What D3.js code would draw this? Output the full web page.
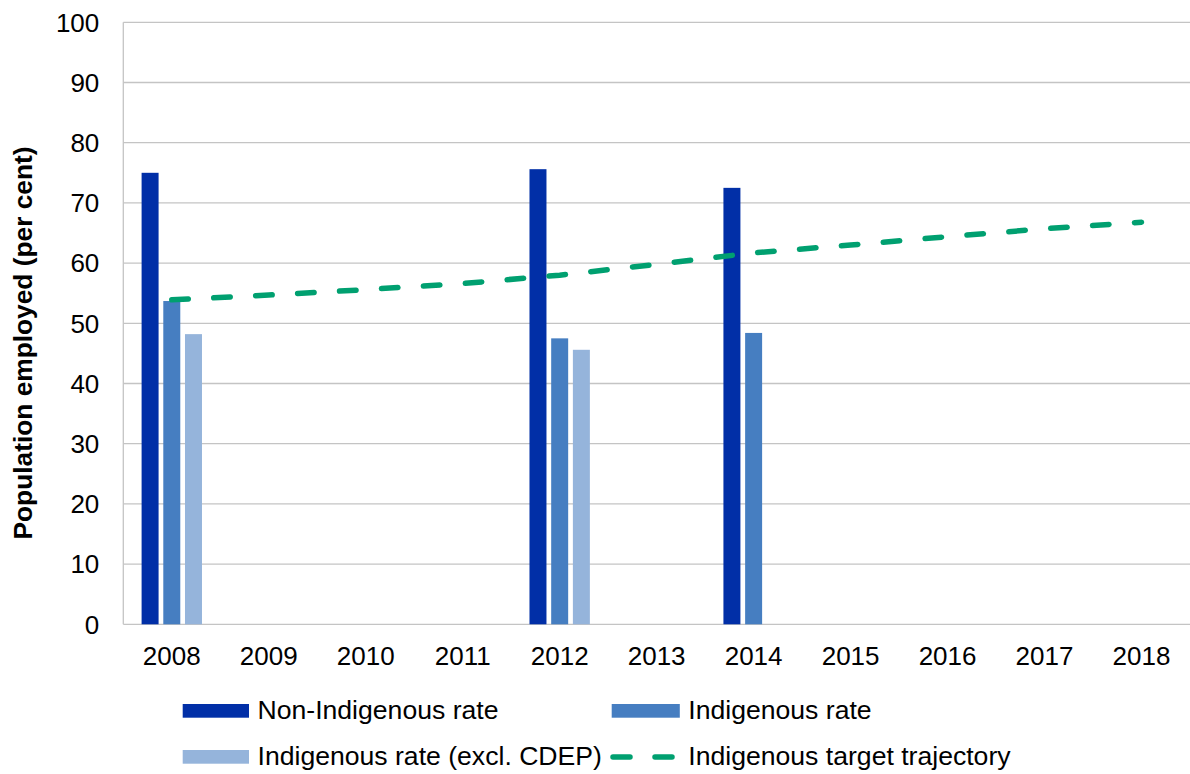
<!DOCTYPE html>
<html>
<head>
<meta charset="utf-8">
<script src="https://cdn.jsdelivr.net/npm/d3@7"></script>
<style>
  html, body { margin: 0; padding: 0; background: #ffffff; }
  svg { display: block; font-family: "Liberation Sans", Arial, sans-serif; }
</style>
</head>
<body>
<svg id="chart" width="1190" height="774"></svg>
<script>
// ---- Data ----
const years = ["2008","2009","2010","2011","2012","2013","2014","2015","2016","2017","2018"];
const seriesNames = ["Non-Indigenous rate", "Indigenous rate", "Indigenous rate (excl. CDEP)"];
const nonIndigenous = [75.0, null, null, null, 75.6, null, 72.5, null, null, null, null];
const indigenous    = [53.7, null, null, null, 47.5, null, 48.4, null, null, null, null];
const indigenousExclCDEP = [48.2, null, null, null, 45.6, null, null, null, null, null, null];
const targetTrajectory = [53.9, 54.7, 55.6, 56.6, 58.0, 59.8, 61.7, 63.0, 64.4, 65.7, 66.8];
const lineName = "Indigenous target trajectory";
const yTicks = [0,10,20,30,40,50,60,70,80,90,100];
const yTitle = "Population employed (per cent)";

(function () {
const colors = ["#012FA7", "#467EC1", "#95B4DB"];
const lineColor = "#00A070";
const gridColor = "#C4C4C4";

// ---- Layout ----
const svg = d3.select("#chart");
const plotLeft = 123.3, plotRight = 1190, plotTop = 22.3, plotBottom = 624.3;
const fontSize = 26;
const legendFontSize = 26.6;

const x = d3.scaleBand().domain(years).range([plotLeft, plotRight]).padding(0);
const xs = d3.scaleBand().domain(seriesNames).range([0, x.bandwidth()])
  .paddingInner(0.217).paddingOuter(0.843);
const y = d3.scaleLinear().domain([0, 100]).range([plotBottom, plotTop]);

// gridlines
svg.append("g").selectAll("line").data(yTicks.filter(d => d > 0)).join("line")
  .attr("x1", plotLeft).attr("x2", plotRight)
  .attr("y1", d => y(d)).attr("y2", d => y(d))
  .attr("stroke", gridColor).attr("stroke-width", 1.3);

// axes lines
svg.append("line").attr("x1", plotLeft).attr("x2", plotLeft).attr("y1", plotTop).attr("y2", plotBottom)
  .attr("stroke", gridColor).attr("stroke-width", 1.3);
svg.append("line").attr("x1", plotLeft).attr("x2", plotRight).attr("y1", plotBottom).attr("y2", plotBottom)
  .attr("stroke", gridColor).attr("stroke-width", 1.3);

// y tick labels
svg.append("g").selectAll("text").data(yTicks).join("text")
  .attr("x", 99.3).attr("y", d => y(d) + 9.2)
  .attr("text-anchor", "end").attr("font-size", fontSize).attr("fill", "#000")
  .text(d => d);

// x tick labels
svg.append("g").selectAll("text").data(years).join("text")
  .attr("x", d => x(d) + x.bandwidth() / 2).attr("y", 665)
  .attr("text-anchor", "middle").attr("font-size", fontSize).attr("fill", "#000")
  .text(d => d);

// y title
svg.append("text")
  .attr("transform", `translate(31.5, 343) rotate(-90)`)
  .attr("text-anchor", "middle").attr("font-size", 26.3).attr("font-weight", "bold")
  .attr("fill", "#000").text(yTitle);

// bars
const seriesValues = [nonIndigenous, indigenous, indigenousExclCDEP];
seriesValues.forEach((vals, si) => {
  const data = years.map((yr, i) => ({ yr, v: vals[i] })).filter(d => d.v != null);
  svg.append("g").selectAll("rect").data(data).join("rect")
    .attr("x", d => x(d.yr) + xs(seriesNames[si]))
    .attr("width", xs.bandwidth())
    .attr("y", d => y(d.v))
    .attr("height", d => y(0) - y(d.v))
    .attr("fill", colors[si]);
});

// target trajectory line
const lineGen = d3.line()
  .x((d, i) => x(years[i]) + x.bandwidth() / 2)
  .y(d => y(d));
svg.append("path").datum(targetTrajectory)
  .attr("d", lineGen)
  .attr("fill", "none").attr("stroke", lineColor).attr("stroke-width", 5.5)
  .attr("stroke-linecap", "round").attr("stroke-dasharray", "16.5 25.5");

// legend
const legend = svg.append("g");
const legendItems = [
  { name: seriesNames[0], type: "rect", color: colors[0], sx: 182.7, tx: 257.5, cy: 711 },
  { name: seriesNames[1], type: "rect", color: colors[1], sx: 611.7, tx: 688.3, cy: 711 },
  { name: seriesNames[2], type: "rect", color: colors[2], sx: 182.7, tx: 257.5, cy: 757 },
  { name: lineName, type: "line", color: lineColor, sx: 613, tx: 688.3, cy: 757 }
];
legendItems.forEach(it => {
  if (it.type === "rect") {
    legend.append("rect").attr("x", it.sx).attr("y", it.cy - 7)
      .attr("width", it.tx - it.sx - 8.5).attr("height", 13.7).attr("fill", it.color);
  } else {
    legend.append("line").attr("x1", it.sx).attr("x2", 672)
      .attr("y1", it.cy).attr("y2", it.cy)
      .attr("stroke", it.color).attr("stroke-width", 5.5)
      .attr("stroke-linecap", "round").attr("stroke-dasharray", "17 25");
  }
  legend.append("text").attr("x", it.tx).attr("y", it.cy + 7.5)
    .attr("font-size", legendFontSize).attr("fill", "#000").text(it.name);
});
})();
</script>
</body>
</html>
